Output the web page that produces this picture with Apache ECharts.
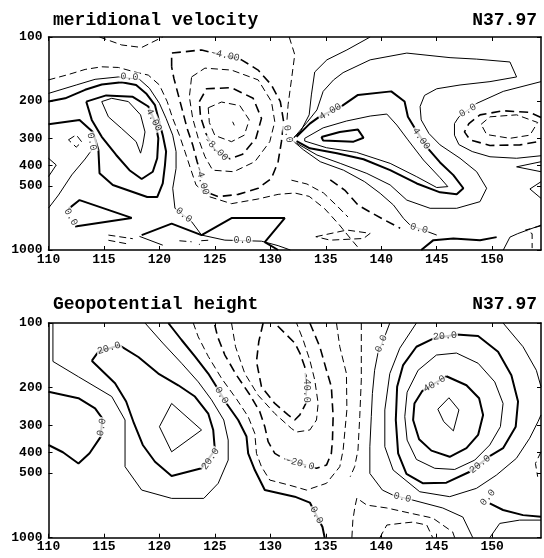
<!DOCTYPE html>
<html>
<head>
<meta charset="utf-8">
<script src="https://cdn.jsdelivr.net/npm/echarts@6/dist/echarts.min.js"></script>
<style>
html, body { margin: 0; background: #fff; }
#chart { width: 544px; height: 558px; }
</style>
</head>
<body>
<div id="chart"></div>
<script>
// axis ticks
var lonTicks = [110, 115, 120, 125, 130, 135, 140, 145, 150];
var presTicks = [100, 200, 300, 400, 500, 1000];

// contour lines, each point is [longitude, pressure hPa]
// meridional velocity
var velThick = [
    [[110,201],[111.5,194],[113.3,177],[114.8,167],[116.6,163],[117.9,168],[118.8,184],[119.6,209],[119.9,241],[120.3,289],[120.6,345],[120.5,399],[120.3,487],[119.8,564],[118.9,564],[115.8,495],[114.6,436],[114.5,339],[114.0,279],[112.8,245],[110,257]],
    [[113.4,201],[115.2,188],[117.6,191],[119.0,212],[119.6,250],[119.9,299],[119.8,371],[119.4,429],[118.4,464],[117.3,422],[116.1,358],[114.8,294],[113.9,245],[113.4,201]],
    [[112.4,776],[117.5,707],[112.8,583],[111.8,641]],
    [[118.4,851],[121.1,752],[123.8,851],[126.5,708],[131.3,708],[129.5,918],[130.7,1000]],
    [[132.36,294],[133.56,255],[134.4,237],[136.5,210],[137.9,187],[140.9,180],[142.1,201],[142.4,237],[143.0,267],[144.2,333],[145.3,388],[146.5,445],[147.4,513],[146.8,548],[145.3,536],[143.2,487],[140.8,422],[138.4,375],[136.0,351],[133.56,333],[132.36,308]],
    [[134.6,295],[136.26,279],[137.9,272],[138.4,297],[137.5,310],[134.76,306],[134.6,295]],
    [[143.6,1000],[144.7,899],[146.5,883],[148.9,899],[150.4,870]]
];
var velThin = [
    [[110,184],[112.5,168],[114.2,158],[116.3,154],[118.2,158],[119.1,174],[120.0,205],[120.6,241],[121.2,289],[121.5,345],[121.5,414],[121.2,513],[121.4,637],[122.9,736],[123.8,851]],
    [[114.8,201],[115.7,194],[117.2,201],[118.3,232],[118.7,279],[118.5,321],[118.3,351],[117.9,310],[116.6,269],[115.4,237],[114.8,201]],
    [[113.9,339],[113.3,374],[112.1,444],[110.9,552],[110,636]],
    [[110,371],[110.7,399],[110,452]],
    [[123.8,851],[125.9,899],[129.2,909],[130.7,954],[131.8,1000]],
    [[118.2,863],[120.3,949]],
    [[126.6,250],[126.75,260]],
    [[139.0,100],[136.9,115],[135.1,128],[134.0,146],[133.7,187],[133.5,232],[132.7,279],[131.9,303],[133.0,339],[134.5,385],[136.6,422],[138.5,478],[139.9,542],[141.1,615],[142.0,710],[142.6,764],[144.2,821],[145.0,851]],
    [[133.1,299],[134.76,267],[136.86,248],[139.0,235],[140.5,230],[141.4,259],[142.4,304],[143.8,378],[145.3,458],[146.0,504],[145.0,509],[143.2,453],[140.8,392],[137.76,348],[135.06,331],[133.1,308],[133.1,299]],
    [[132.1,298],[133.3,252],[134.2,220],[134.76,180],[135.7,159],[136.56,147],[139.0,128],[142.3,119],[146.2,125],[148.6,127],[151.6,131],[152.2,154],[149.8,162],[147.1,168],[145.0,175],[143.9,188],[143.5,212],[143.6,245],[144.3,284],[145.3,321],[147.1,371],[148.6,429],[149.5,513],[148.9,593],[146.8,637],[144.4,637],[142.3,583],[140.8,495],[138.7,437],[136.3,392],[134.2,358],[132.36,315]],
    [[154.4,162],[151.0,180],[148.6,205],[147.0,237],[146.6,255],[146.6,289],[147.0,320],[148.2,345],[149.8,365],[152.2,371],[154.4,361]],
    [[154.4,385],[152.2,407],[154.4,429]],
    [[154.4,478],[153.4,517],[154.4,572]],
    [[151.0,1000],[151.6,870],[152.3,838],[154.4,764]]
];
var velDashThin = [
    [[114.6,100],[116.6,109],[118.4,112],[120.3,100]],
    [[110,159],[111.8,150],[113.3,142],[114.8,138],[116.3,139],[117.8,146],[119.0,151],[120.0,168],[120.7,201],[121.2,241],[121.8,289],[122.3,345],[122.8,414],[123.3,495],[124.5,562],[126.5,606],[128.9,576],[130.7,548],[132.2,540],[133.5,560],[134.9,640],[136.2,760],[137.2,880],[138.1,1000]],
    [[111.8,304],[112.5,288],[113.0,311],[112.5,329],[111.8,304]],
    [[115.4,851],[117.6,885]],
    [[115.4,900],[117.3,940]],
    [[121.8,905],[122.9,915]],
    [[124.4,900],[123.7,905],[123.6,945]],
    [[122.9,154],[124.1,140],[126.5,143],[128.9,159],[130.1,201],[130.4,250],[129.95,310],[128.6,385],[126.7,429],[124.8,422],[124.1,364],[123.5,299],[123.0,241],[122.7,191],[122.9,154]],
    [[124.4,215],[125.6,202],[127.25,210],[128.1,245],[127.65,289],[126.5,310],[125.0,290],[124.5,252],[124.4,215]],
    [[131.7,100],[132.2,121],[131.9,159],[131.6,208],[131.5,245]],
    [[149.0,257],[149.8,237],[152.2,232],[154.1,252],[153.4,289],[151.6,299],[149.5,287],[149.0,257]],
    [[131.9,470],[133.3,490],[134.8,540],[136.0,620],[137.0,700]],
    [[134.1,866],[136.9,806],[139.0,835],[138.4,883],[135.4,899],[134.1,866]],
    [[154.4,770],[153.0,806],[153.6,838],[153.6,980]]
];
var velDashThick = [
    [[121.1,138],[121.1,119],[123.8,115],[127.4,128],[128.9,143],[130.1,168],[130.9,201],[131.2,250],[131.0,310],[130.7,385],[130.1,461],[128.9,513],[127.1,548],[125.3,562],[124.1,532],[123.85,461],[123.4,385],[123.0,321],[122.5,269],[122.1,224],[121.7,187],[121.3,156],[121.1,138]],
    [[123.6,201],[124.25,175],[126.5,173],[128.45,194],[129.2,241],[128.7,299],[127.5,355],[126.35,373],[125.0,339],[124.2,284],[123.7,236],[123.6,201]],
    [[154.4,239],[153.4,226],[151.0,222],[148.9,232],[147.9,255],[147.5,279],[148.0,304],[149.8,323],[152.5,321],[154.4,308]],
    [[135.4,469],[136.7,523],[137.9,615],[139.1,668],[140.3,723],[141.7,790]]
];
var velLabels = [
    [125.9,122,'-4.00'], [117.3,154,'0.0'], [119.5,245,'4.00'], [125.1,335,'-8.00'],
    [123.85,470,'-4.00'], [122.2,685,'0.0'], [127.5,902,'0.0'], [113.9,310,'0.0'],
    [112.0,700,'0.0'], [131.6,285,'0.0'], [135.4,224,'4.00'], [143.6,300,'4.00'],
    [147.8,221,'0.0'], [143.4,792,'0.0']
];
var velLabelAngles = [-12, -3, -62, -45, -75, -40, 0, -80, -60, -80, 30, -55, 30, -15];

// geopotential height
var hgtThick = [
    [[113.9,150],[114.5,136],[116.4,127],[118.1,144],[119.9,172],[121.7,195],[123.2,220],[124.4,264],[124.85,315],[125.0,391],[123.8,475],[121.1,516],[119.6,443],[118.5,370],[117.7,293],[117.0,232],[116.0,191],[113.9,150]],
    [[110,209],[112.7,224],[114.2,250],[114.85,278],[114.7,339],[113.7,404],[112.7,451],[111.3,400],[110,370]],
    [[120.8,100],[122.0,120],[123.2,143],[124.4,172],[125.15,198],[126.05,237],[127.1,283],[127.85,338],[128.0,405],[128.6,484],[129.5,600],[132.2,644],[133.56,686],[134.7,892],[134.9,1000]],
    [[146.78,113],[148.73,115],[150.53,136],[151.73,175],[152.33,232],[152.12,304],[150.98,383],[149.78,417],[147.98,493],[145.87,554],[143.77,558],[142.27,505],[141.52,405],[141.31,283],[141.43,198],[141.97,157],[143.17,129],[144.73,118],[146.78,113]],
    [[145.87,177],[147.68,195],[148.82,224],[149.18,268],[148.73,332],[147.68,383],[146.17,420],[144.52,393],[143.41,348],[142.87,283],[142.99,237],[143.71,207],[145.87,177]],
    [[154.4,799],[152.78,785],[150.98,743],[149.78,692]]
];
var hgtThin = [
    [[110.4,100],[110.4,151],[112.7,178],[115.7,220],[116.9,283],[116.9,467],[118.4,600],[121.1,656],[124.0,656],[125.3,558],[126.2,435],[126.2,351],[125.8,283],[124.7,228],[123.5,188],[122.0,154],[120.3,124],[118.7,100]],
    [[120.0,304],[121.1,237],[123.8,315],[121.1,398],[120.0,304]],
    [[140.77,100],[140.3,116],[139.7,138],[139.4,166],[139.2,213],[139.1,273],[138.97,377],[138.97,502],[140.1,600],[141.04,633],[142.84,668],[145.54,727],[147.35,801],[148.25,1000]],
    [[143.17,100],[141.67,131],[140.77,172],[140.32,254],[140.32,377],[141.07,484],[143.47,611],[146.17,644],[148.58,589],[150.38,511],[152.18,427],[153.38,344],[154.13,288],[154.4,268]],
    [[144.97,141],[146.78,138],[148.73,154],[150.23,188],[150.98,237],[150.74,304],[149.78,370],[148.43,435],[146.62,481],[144.82,475],[143.17,432],[142.33,351],[142.12,273],[142.33,210],[143.32,166],[144.97,141]],
    [[146.1,223],[147.0,254],[146.5,318],[145.63,288],[145.1,252],[146.1,223]],
    [[150.98,100],[152.78,129],[153.98,166],[154.4,198]],
    [[149.78,1000],[150.68,858],[152.48,828],[154.4,828]]
];
var hgtDashThick = [
    [[133.56,100],[134.46,129],[135.06,166],[135.5,198],[135.66,273],[135.6,351],[135.5,405],[135.06,459],[134.16,475],[131.15,427],[130.4,405],[129.8,357],[129.5,304],[129.05,259],[128.15,216],[126.95,175],[125.9,141],[125.25,116],[124.95,100]],
    [[129.35,100],[128.96,122],[128.75,151],[129.2,198],[130.4,237],[131.6,268],[132.2,283],[132.66,268],[133.2,237],[133.26,198],[133.1,160],[132.66,138],[132.2,124],[130.4,100]]
];
var hgtDashThin = [
    [[138.2,100],[138.2,184],[138.06,273],[137.9,391],[137.6,467],[137.2,520]],
    [[135.96,100],[136.26,129],[136.86,172],[136.9,254],[136.56,391],[136.26,467],[135.06,558],[133.26,600],[131.76,570],[129.95,539],[129.2,467],[128.75,405],[128.6,327],[128.0,273],[127.0,228],[125.6,181],[124.4,143],[123.5,116],[123.05,100]],
    [[126.5,100],[126.86,129],[127.7,172],[128.9,217],[130.4,264],[131.9,310],[132.36,322],[133.56,315],[134.16,283],[134.31,237],[134.0,184],[133.56,149],[132.96,120],[132.36,100]],
    [[137.35,1000],[137.44,828],[137.62,720],[137.8,654],[138.7,705],[140.5,727],[142.57,768],[144.64,810],[145.54,873],[146.44,941],[146.62,1000]],
    [[139.87,1000],[140.5,873],[141.94,855],[142.84,846],[144.1,873],[144.64,1000]],
    [[154.4,398],[153.9,451],[154.1,520]]
];
var hgtLabels = [
    [115.45,131,'20.0'], [114.8,306,'0.0'], [124.6,430,'20.0'], [125.6,217,'0.0'],
    [132.66,451,'-20.0'], [133.25,200,'-40.0'], [140.0,125,'0.0'], [145.75,115,'20.0'],
    [144.8,192,'40.0'], [148.9,455,'20.0'], [149.6,650,'0.0'], [141.9,650,'0.0'],
    [134.16,784,'0.0']
];
var hgtLabelAngles = [17, 80, 55, -59, -15, -90, 67, 5, 31, 38, 50, -14, -62];

var chart = echarts.init(document.getElementById('chart'));
var font = 'Liberation Mono';

function lines(arr, panel, width, dash) {
    return arr.map(function (pts) {
        return {
            type: 'line',
            xAxisIndex: panel,
            yAxisIndex: panel,
            data: pts.map(function (d) { return [d[0], Math.log10(d[1])]; }),
            symbol: 'none',
            silent: true,
            z: 2,
            lineStyle: { color: '#000', width: width, type: dash || 'solid' }
        };
    });
}

function labels(arr, angles, panel) {
    return {
        type: 'scatter',
        xAxisIndex: panel,
        yAxisIndex: panel,
        symbolSize: 1,
        silent: true,
        z: 5,
        itemStyle: { color: 'rgba(0,0,0,0)' },
        data: arr.map(function (d, i) {
            return { name: d[2], value: [d[0], Math.log10(d[1])], label: { rotate: angles[i] } };
        }),
        label: {
            show: true, position: 'inside', formatter: '{b}',
            fontSize: 10, fontFamily: font, color: '#000',
            backgroundColor: '#fff', padding: [0, 1]
        }
    };
}

var logTicks = presTicks.map(function (p) { return Math.log10(p); });

function xAxis(panel, top) {
    return {
        type: 'value', gridIndex: panel, min: 110, max: 154.4,
        position: top ? 'top' : 'bottom',
        axisLine: { lineStyle: { color: '#000', width: 1.5 } },
        axisTick: { inside: true, length: 4, customValues: lonTicks, lineStyle: { color: '#000' } },
        axisLabel: {
            show: !top, customValues: lonTicks, margin: 3,
            fontSize: 13, fontFamily: font, fontWeight: 'bold', color: '#000'
        },
        splitLine: { show: false }
    };
}

function yAxis(panel, right) {
    return {
        type: 'value', gridIndex: panel, min: 2, max: 3, inverse: true,
        position: right ? 'right' : 'left',
        axisLine: { lineStyle: { color: '#000', width: 1.5 } },
        axisTick: { inside: true, length: 4, customValues: logTicks, lineStyle: { color: '#000' } },
        axisLabel: {
            show: !right, customValues: logTicks, margin: 6,
            fontSize: 13, fontFamily: font, fontWeight: 'bold', color: '#000',
            formatter: function (v) { return Math.round(Math.pow(10, v)); }
        },
        splitLine: { show: false }
    };
}

var titleStyle = { fontSize: 18, fontFamily: font, fontWeight: 'bold', color: '#000' };

var series = [].concat(
    lines(velThick, 0, 2), lines(velThin, 0, 1),
    lines(velDashThin, 0, 1, [7, 4]), lines(velDashThick, 0, 1.6, [9, 5]),
    lines(hgtThick, 1, 2), lines(hgtThin, 1, 1),
    lines(hgtDashThin, 1, 1, [7, 4]), lines(hgtDashThick, 1, 1.6, [9, 5]),
    [labels(velLabels, velLabelAngles, 0), labels(hgtLabels, hgtLabelAngles, 1)]
);

var option = {
    backgroundColor: '#fff',
    animation: false,
    title: [
        { text: 'meridional velocity', left: 48, top: 6, textStyle: titleStyle },
        { text: 'N37.97', right: 2, top: 6, textStyle: titleStyle },
        { text: 'Geopotential height', left: 48, top: 290, textStyle: titleStyle },
        { text: 'N37.97', right: 2, top: 290, textStyle: titleStyle }
    ],
    grid: [
        { left: 48.5, top: 37, width: 492.5, height: 213 },
        { left: 48.5, top: 323, width: 492.5, height: 214.7 }
    ],
    xAxis: [xAxis(0), xAxis(1), xAxis(0, true), xAxis(1, true)],
    yAxis: [yAxis(0), yAxis(1), yAxis(0, true), yAxis(1, true)],
    series: series
};

chart.setOption(option);
</script>
</body>
</html>
